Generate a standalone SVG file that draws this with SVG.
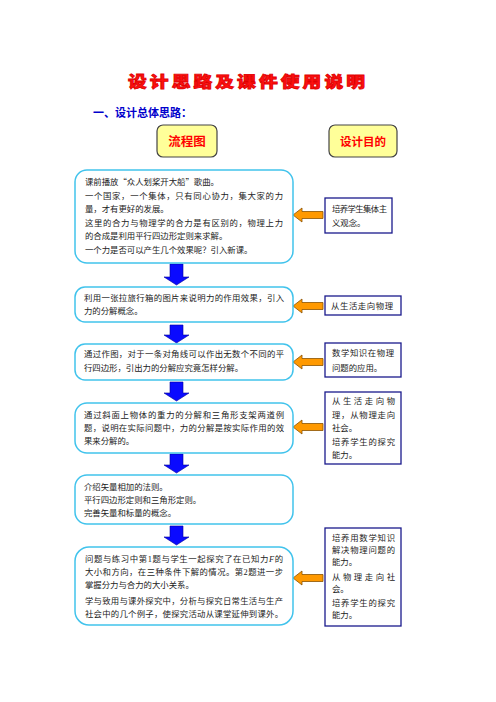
<svg xmlns="http://www.w3.org/2000/svg" width="496" height="702" viewBox="0 0 496 702">
<style>
.t{font-family:"Noto Sans CJK SC","Noto Sans",sans-serif;font-size:8.4px;fill:#222}
.box{fill:#fff;stroke:#41c3ec;stroke-width:1.5}
.pbox{fill:#fff;stroke:#1a1a8c;stroke-width:1.3}
.hbox{fill:#ffff99;stroke:#444;stroke-width:1.2}
.ht{font-family:"Noto Sans CJK SC",sans-serif;font-size:12.5px;font-weight:bold;fill:#ff0000;text-anchor:middle}
.ba{fill:#0a0aff;stroke:#00009a;stroke-width:0.6}
.oa{fill:#ff9900;stroke:#8a5200;stroke-width:0.8}
</style>
<rect width="496" height="702" fill="#fff"/>
<text transform="matrix(1.25 0 0 1 0 0)" x="102.4" y="87" textLength="189.6" lengthAdjust="spacing" style="font-family:'Noto Sans CJK SC',sans-serif;font-size:15px;font-weight:900;fill:#ff1010;stroke:#e00000;stroke-width:0.8">设计思路及课件使用说明</text>
<text x="93" y="117" style="font-family:'Noto Sans CJK SC',sans-serif;font-size:11px;font-weight:bold;fill:#0000cc">一、设计总体思路：</text>
<g id="header-flow"><rect class="hbox" x="157" y="125" width="60" height="32" rx="6"/><text class="ht" x="187" y="145.5">流程图</text></g>
<g id="header-purpose"><rect class="hbox" x="329" y="125" width="68" height="32" rx="6"/><text class="ht" x="363" y="145.5" style="font-size:11.5px">设计目的</text></g>

<g id="connectors">
<polygon class="ba" points="170,264 183,264 183,277 189,277 176.5,285 164,277 170,277"/>
<polygon class="ba" points="170,325 183,325 183,335 189,335 176.5,343 164,335 170,335"/>
<polygon class="ba" points="170,382 183,382 183,393 189,393 176.5,401 164,393 170,393"/>
<polygon class="ba" points="170,454 183,454 183,465 189,465 176.5,473 164,465 170,465"/>
<polygon class="ba" points="170,526 183,526 183,537 189,537 176.5,545 164,537 170,537"/>
<polygon class="oa" points="293,215 302,208 302,211.5 323,211.5 323,218.5 302,218.5 302,222"/>
<polygon class="oa" points="293,306 302,299 302,302.5 323,302.5 323,309.5 302,309.5 302,313"/>
<polygon class="oa" points="293,362 302,355 302,358.5 323,358.5 323,365.5 302,365.5 302,369"/>
<polygon class="oa" points="293,427 302,420 302,423.5 323,423.5 323,430.5 302,430.5 302,434"/>
<polygon class="oa" points="293,578 302,571 302,574.5 323,574.5 323,581.5 302,581.5 302,585"/>
</g>

<g id="step1">
<rect class="box" x="75" y="170" width="218" height="93" rx="12"/>
<text class="t" x="85" y="185">课前播放“众人划桨开大船”歌曲。</text>
<text class="t" x="85" y="198.5" textLength="198" lengthAdjust="spacing">一个国家，一个集体，只有同心协力，集大家的力</text>
<text class="t" x="85" y="212">量，才有更好的发展。</text>
<text class="t" x="85" y="225.5" textLength="198" lengthAdjust="spacing">这里的合力与物理学的合力是有区别的，物理上力</text>
<text class="t" x="85" y="239">的合成是利用平行四边形定则来求解。</text>
<text class="t" x="85" y="252.5">一个力是否可以产生几个效果呢？引入新课。</text>
</g>
<g id="step2">
<rect class="box" x="75" y="287" width="218" height="35" rx="10"/>
<text class="t" x="84" y="301" textLength="200" lengthAdjust="spacing">利用一张拉旅行箱的图片来说明力的作用效果，引入</text>
<text class="t" x="84" y="314">力的分解概念。</text>
</g>
<g id="step3">
<rect class="box" x="75" y="344" width="218" height="36" rx="10"/>
<text class="t" x="84" y="356.5" textLength="200" lengthAdjust="spacing">通过作图，对于一条对角线可以作出无数个不同的平</text>
<text class="t" x="84" y="370.5">行四边形，引出力的分解应究竟怎样分解。</text>
</g>
<g id="step4">
<rect class="box" x="75" y="403" width="218" height="50" rx="12"/>
<text class="t" x="84" y="418" textLength="200" lengthAdjust="spacing">通过斜面上物体的重力的分解和三角形支架两道例</text>
<text class="t" x="84" y="431" textLength="200" lengthAdjust="spacing">题，说明在实际问题中，力的分解是按实际作用的效</text>
<text class="t" x="84" y="444">果来分解的。</text>
</g>
<g id="step5">
<rect class="box" x="75" y="475" width="218" height="49" rx="12"/>
<text class="t" x="84" y="490">介绍矢量相加的法则。</text>
<text class="t" x="84" y="503">平行四边形定则和三角形定则。</text>
<text class="t" x="84" y="515.5">完善矢量和标量的概念。</text>
</g>
<g id="step6">
<rect class="box" x="75" y="547" width="218" height="78" rx="14"/>
<text class="t" x="85" y="562" textLength="198" lengthAdjust="spacing">问题与练习中第<tspan style="font-family:'Liberation Serif',serif">1</tspan>题与学生一起探究了在已知力<tspan style="font-family:'Liberation Serif',serif;font-style:italic">F</tspan>的</text>
<text class="t" x="85" y="575" textLength="198" lengthAdjust="spacing">大小和方向，在三种条件下解的情况。第<tspan style="font-family:'Liberation Serif',serif">2</tspan>题进一步</text>
<text class="t" x="85" y="588">掌握分力与合力的大小关系。</text>
<text class="t" x="85" y="604" textLength="198" lengthAdjust="spacing">学与致用与课外探究中，分析与探究日常生活与生产</text>
<text class="t" x="85" y="617" textLength="198" lengthAdjust="spacing">社会中的几个例子，使探究活动从课堂延伸到课外。</text>
</g>

<g id="purpose1">
<rect class="pbox" x="325" y="198" width="67" height="35"/>
<text class="t" x="332" y="212" textLength="55" lengthAdjust="spacing">培养学生集体主</text>
<text class="t" x="332" y="225.5">义观念。</text>
</g>
<g id="purpose2">
<rect class="pbox" x="325" y="296" width="76" height="19"/>
<text class="t" x="331" y="309" textLength="62" lengthAdjust="spacing">从生活走向物理</text>
</g>
<g id="purpose3">
<rect class="pbox" x="325" y="343" width="76" height="34"/>
<text class="t" x="332" y="356" textLength="62" lengthAdjust="spacing">数学知识在物理</text>
<text class="t" x="332" y="371">问题的应用。</text>
</g>
<g id="purpose4">
<rect class="pbox" x="325" y="392" width="76" height="72"/>
<text class="t" x="332" y="404" textLength="63" lengthAdjust="spacing">从生活走向物</text>
<text class="t" x="332" y="417.5" textLength="63" lengthAdjust="spacing">理，从物理走向</text>
<text class="t" x="332" y="431">社会。</text>
<text class="t" x="332" y="444.5" textLength="63" lengthAdjust="spacing">培养学生的探究</text>
<text class="t" x="332" y="458">能力。</text>
</g>
<g id="purpose5">
<rect class="pbox" x="325" y="528" width="76" height="98"/>
<text class="t" x="332" y="541" textLength="63" lengthAdjust="spacing">培养用数学知识</text>
<text class="t" x="332" y="553" textLength="63" lengthAdjust="spacing">解决物理问题的</text>
<text class="t" x="332" y="565">能力。</text>
<text class="t" x="332" y="580" textLength="63" lengthAdjust="spacing">从物理走向社</text>
<text class="t" x="332" y="592">会。</text>
<text class="t" x="332" y="606" textLength="63" lengthAdjust="spacing">培养学生的探究</text>
<text class="t" x="332" y="618">能力。</text>
</g>
</svg>
